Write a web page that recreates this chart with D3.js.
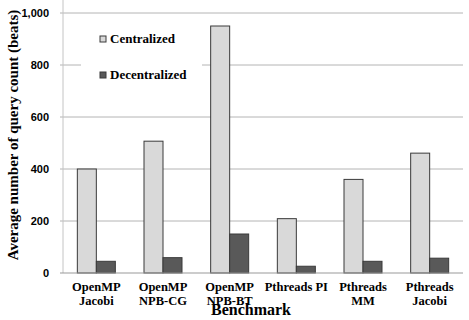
<!DOCTYPE html>
<html>
<head>
<meta charset="utf-8">
<script src="https://cdn.jsdelivr.net/npm/d3@7"></script>
<style>
  body { margin: 0; background: #fff; }
  svg { display: block; }
  .serif { font-family: "Liberation Serif", "Times New Roman", serif; font-weight: bold; }
  .sans { font-family: "Liberation Sans", Arial, sans-serif; font-weight: bold; }
</style>
</head>
<body>
<svg id="chart"></svg>
<script>
// benchmark names (two lines each)
const benchmarks = [
  ["OpenMP", "Jacobi"],
  ["OpenMP", "NPB-CG"],
  ["OpenMP", "NPB-BT"],
  ["Pthreads PI"],
  ["Pthreads", "MM"],
  ["Pthreads", "Jacobi"]
];
const seriesNames = ["Centralized", "Decentralized"];
const centralized = [400, 507, 950, 209, 360, 461];
const decentralized = [45, 59, 150, 26, 45, 57];
const yTicks = [0, 200, 400, 600, 800, 1000];

const width = 469, height = 320;
const plotLeft = 63, plotRight = 463, plotTop = 13, plotBottom = 273;

const svg = d3.select("#chart")
    .attr("width", width)
    .attr("height", height);

const x = d3.scaleBand()
    .domain(d3.range(benchmarks.length))
    .range([plotLeft, plotRight]);

const y = d3.scaleLinear()
    .domain([0, 1000])
    .range([plotBottom, plotTop]);

// gridlines
svg.append("g")
  .selectAll("line")
  .data(yTicks.slice(1))
  .join("line")
    .attr("x1", plotLeft - 3)
    .attr("x2", plotRight)
    .attr("y1", d => y(d))
    .attr("y2", d => y(d))
    .attr("stroke", "#b4b4b4")
    .attr("stroke-width", 1);

// legend background hides the gridlines behind it
svg.append("rect")
    .attr("x", 81).attr("y", 20)
    .attr("width", 121).attr("height", 75)
    .attr("fill", "#fff");

// y axis line
svg.append("line")
    .attr("x1", plotLeft).attr("x2", plotLeft)
    .attr("y1", 0).attr("y2", plotBottom)
    .attr("stroke", "#c4c4c4");

const barW = 19;
const groups = svg.append("g")
  .selectAll("g")
  .data(benchmarks.map((b, i) => [centralized[i], decentralized[i]]))
  .join("g")
    .attr("transform", (d, i) => `translate(${x(i) + x.bandwidth() / 2}, 0)`);

groups.selectAll("rect")
  .data(d => d)
  .join("rect")
    .attr("x", (d, j) => j === 0 ? -barW : 0)
    .attr("y", d => y(d))
    .attr("width", barW)
    .attr("height", d => plotBottom - y(d))
    .attr("fill", (d, j) => j === 0 ? "#d9d9d9" : "#595959")
    .attr("stroke", "#3a3a3a")
    .attr("stroke-width", 1);

// baseline
svg.append("line")
    .attr("x1", plotLeft - 3).attr("x2", plotRight)
    .attr("y1", plotBottom).attr("y2", plotBottom)
    .attr("stroke", "#999");

// y tick labels
svg.append("g")
    .attr("class", "sans")
    .attr("font-size", 11)
    .attr("text-anchor", "end")
  .selectAll("text")
  .data(yTicks)
  .join("text")
    .attr("x", 49)
    .attr("y", d => y(d) + 4)
    .text(d3.format(","));

// category labels
const cat = svg.append("g")
    .attr("class", "serif")
    .attr("font-size", 12.5)
    .attr("text-anchor", "middle")
  .selectAll("text")
  .data(benchmarks)
  .join("text")
    .attr("x", (d, i) => x(i) + x.bandwidth() / 2)
    .attr("y", 291);
cat.selectAll("tspan")
  .data(d => d)
  .join("tspan")
    .attr("x", function() { return this.parentNode.getAttribute("x"); })
    .attr("dy", (d, k) => k === 0 ? 0 : 13.5)
    .text(d => d);

// axis titles
svg.append("text")
    .attr("class", "serif")
    .attr("x", 251)
    .attr("y", 315)
    .attr("text-anchor", "middle")
    .attr("font-size", 16)
    .text("Benchmark");

svg.append("text")
    .attr("class", "serif")
    .attr("transform", "translate(18, 135) rotate(-90)")
    .attr("text-anchor", "middle")
    .attr("font-size", 15)
    .text("Average number of query count (beats)");

// legend
const legend = svg.append("g")
  .selectAll("g")
  .data(seriesNames)
  .join("g")
    .attr("transform", (d, i) => `translate(100, ${36 + i * 36})`);
legend.append("rect")
    .attr("width", 6).attr("height", 6)
    .attr("fill", (d, i) => i === 0 ? "#d9d9d9" : "#595959")
    .attr("stroke", "#3a3a3a");
legend.append("text")
    .attr("class", "serif")
    .attr("x", 10)
    .attr("y", 6.5)
    .attr("font-size", 13)
    .text(d => d);
</script>
</body>
</html>
